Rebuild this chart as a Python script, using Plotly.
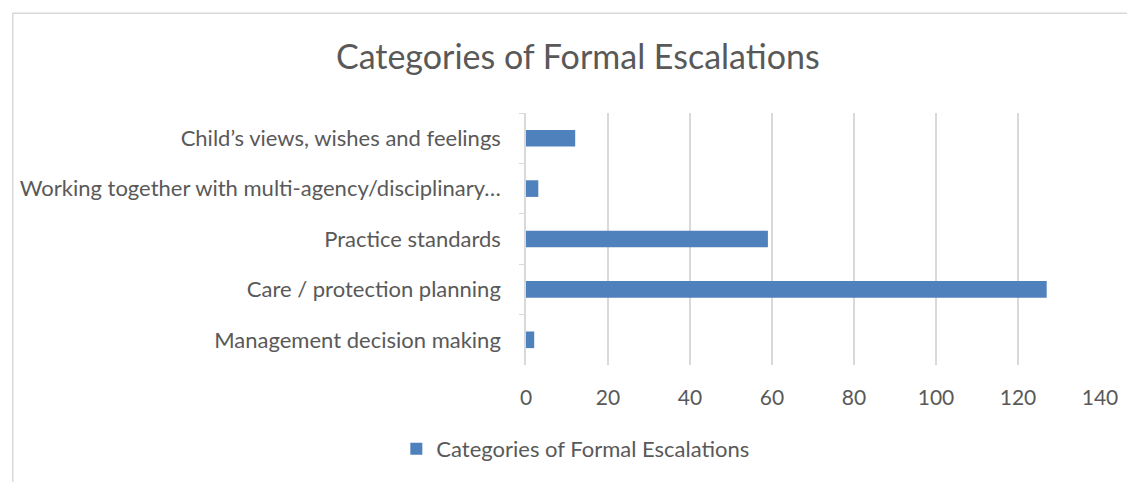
import plotly.graph_objects as go

categories = [
    "Child’s views, wishes and feelings",
    "Working together with multi-agency/disciplinary…",
    "Practice standards",
    "Care / protection planning",
    "Management decision making",
]
values = [12, 3, 59, 127, 2]
series_name = "Categories of Formal Escalations"
title_text = "Categories of Formal Escalations"
x_ticks = [0, 20, 40, 60, 80, 100, 120, 140]

FONT = "Lato, 'Open Sans', sans-serif"
GREY = "#595959"
GRID = "#d9d9d9"

# page has an 8px body margin; work in reference-pixel coordinates
OFF = 8
W, H = 1127, 474
PL, PR, PT, PB = 524, 1100, 113, 368  # plot area in reference pixels
L = PL - OFF
T = PT - OFF
R = W - (PR - OFF)
B = H - (PB - OFF)
pw = PR - PL
ph = PB - PT


def px(x):
    return (x - PL) / pw


def py(y):
    return (PB - y) / ph


fig = go.Figure()
fig.add_trace(go.Bar(
    x=values,
    y=categories,
    orientation="h",
    name=series_name,
    marker=dict(color="#4F81BD", line=dict(width=0)),
    width=0.33,
    showlegend=True,
))

fig.update_layout(
    width=W, height=H,
    margin=dict(l=L, r=R, t=T, b=B),
    paper_bgcolor="white",
    plot_bgcolor="white",
    font=dict(family=FONT, color=GREY, size=22),
    title=dict(
        text=title_text,
        x=px(576), xref="paper", xanchor="center",
        y=1 - (57 - OFF) / H, yref="container", yanchor="middle",
        font=dict(family=FONT, size=34, color=GREY),
    ),
    xaxis=dict(
        range=[0, 140],
        tickvals=x_ticks,
        showgrid=True, gridcolor=GRID, gridwidth=1.5,
        zeroline=False, showline=False,
        ticks="",
        tickfont=dict(size=21, color=GREY),
        ticklabelstandoff=18,
        fixedrange=True,
    ),
    yaxis=dict(
        autorange="reversed",
        showgrid=False,
        showline=True, linecolor=GRID, linewidth=1.5,
        ticks="outside", tickson="boundaries", ticklen=5, tickcolor=GRID,
        tickfont=dict(size=22, color=GREY),
        ticklabelstandoff=19,
    ),
    legend=dict(
        orientation="h",
        x=px(574), xanchor="center",
        y=py(453), yanchor="middle",
        font=dict(size=22, color=GREY),
        itemwidth=30,
    ),
    bargap=0.67,
    shapes=[dict(
        type="rect", xref="paper", yref="paper",
        x0=px(9), x1=px(1150), y0=py(495), y1=py(12),
        line=dict(color=GRID, width=1.5), fillcolor="rgba(0,0,0,0)",
        layer="below",
    )],
)

fig.write_html("out.html")
